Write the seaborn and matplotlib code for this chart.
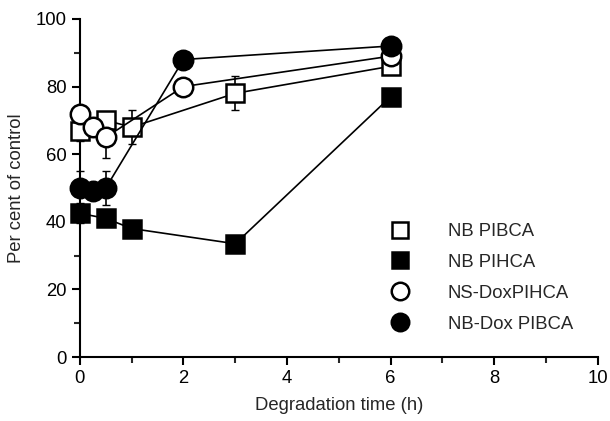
import matplotlib
matplotlib.use("Agg")
import matplotlib.pyplot as plt
import seaborn as sns
import pandas as pd
import numpy as np
from matplotlib.ticker import MultipleLocator

sns.set_style("ticks")
plt.rcParams['font.family'] = ['Liberation Sans', 'DejaVu Sans']

series = ["NB PIBCA", "NB PIHCA", "NS-DoxPIHCA", "NB-Dox PIBCA"]

x_nb_pibca = [0, 0.5, 1, 3, 6]
y_nb_pibca = [67, 70, 68, 78, 86]
e_nb_pibca = [3, 2, 5, 5, 2]

x_nb_pihca = [0, 0.5, 1, 3, 6]
y_nb_pihca = [42.5, 41, 38, 33.5, 77]
e_nb_pihca = [3, 2, 1, 1, 1]

x_ns_dox = [0, 0.25, 0.5, 2, 6]
y_ns_dox = [72, 68, 65, 80, 89]
e_ns_dox = [2, 2, 6, 2, 2]

x_nb_dox = [0, 0.25, 0.5, 2, 6]
y_nb_dox = [50, 49, 50, 88, 92]
e_nb_dox = [5, 2, 5, 2, 2]

frames = []
for name, xs, ys, es in [
    (series[0], x_nb_pibca, y_nb_pibca, e_nb_pibca),
    (series[1], x_nb_pihca, y_nb_pihca, e_nb_pihca),
    (series[2], x_ns_dox, y_ns_dox, e_ns_dox),
    (series[3], x_nb_dox, y_nb_dox, e_nb_dox),
]:
    frames.append(pd.DataFrame({"time": xs, "pct": ys, "err": es, "series": name}))
df = pd.concat(frames, ignore_index=True)

styles = {
    "NB PIBCA": dict(marker="s", mfc="white", ms=13),
    "NB PIHCA": dict(marker="s", mfc="black", ms=13),
    "NS-DoxPIHCA": dict(marker="o", mfc="white", ms=14),
    "NB-Dox PIBCA": dict(marker="o", mfc="black", ms=14),
}

FS = 13.3
fig = plt.figure(figsize=(6.1, 4.21), dpi=100)
ax = fig.add_axes([0.131, 0.152, 0.849, 0.803])

for i, name in enumerate(series):
    sub = df[df["series"] == name]
    st = styles[name]
    eb = ax.errorbar(sub["time"], sub["pct"], yerr=sub["err"], fmt="none",
                     ecolor="black", elinewidth=1.2, capsize=3, zorder=2)
    for art in eb.lines[1] + eb.lines[2]:
        art.set_clip_on(False)
    sns.lineplot(data=sub, x="time", y="pct", ax=ax, color="black",
                 linewidth=1.2, marker=st["marker"], markersize=st["ms"],
                 markerfacecolor=st["mfc"], markeredgecolor="black",
                 markeredgewidth=1.8, label=name, zorder=3 + i, errorbar=None,
                 clip_on=False)

ax.set_xlim(0, 10)
ax.set_ylim(0, 100)
ax.xaxis.set_major_locator(MultipleLocator(2))
ax.xaxis.set_minor_locator(MultipleLocator(1))
ax.yaxis.set_major_locator(MultipleLocator(20))
ax.yaxis.set_minor_locator(MultipleLocator(10))
ax.tick_params(axis="both", which="major", length=6, width=1.5, labelsize=FS, colors="black")
ax.tick_params(axis="both", which="minor", length=4, width=1.5)
for s in ["left", "bottom"]:
    ax.spines[s].set_linewidth(1.5)
    ax.spines[s].set_color("black")
sns.despine(ax=ax)
ax.set_xlabel("Degradation time (h)", fontsize=FS, labelpad=7)
ax.set_ylabel("Per cent of control", fontsize=FS, labelpad=8)

handles, labels = ax.get_legend_handles_labels()
leg = ax.legend(handles, labels, loc="lower right", bbox_to_anchor=(0.984, 0.023),
                frameon=False, fontsize=FS, handlelength=0, handletextpad=2.6,
                labelspacing=0.75, markerscale=0.9)
for h in leg.legend_handles:
    h.set_linestyle("none")

fig.savefig("out.png", dpi=100)
